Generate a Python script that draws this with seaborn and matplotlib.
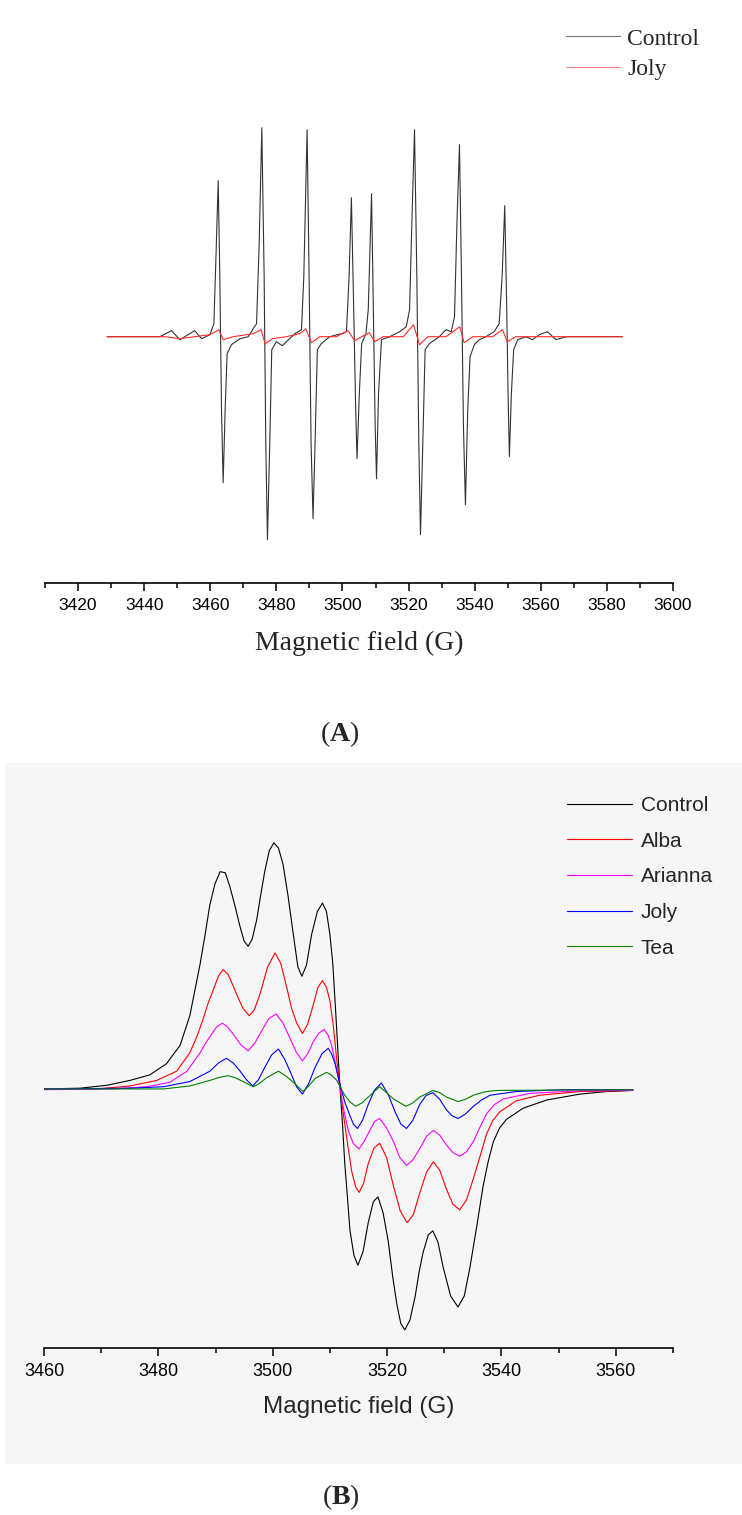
import matplotlib
matplotlib.use('Agg')
import matplotlib.pyplot as plt
import matplotlib.patches as mpatches
from matplotlib.ticker import MultipleLocator
import seaborn as sns

# ---- panel A: spin-trap spectrum, Control vs Joly (field in G, signal in a.u.) ----
a_field_control = [3428.8, 3436.7, 3444.7, 3448.3, 3450.8, 3453.3, 3455.3, 3457.4, 3459.9, 3461.1,
                   3461.7, 3462.4, 3462.9, 3463.4, 3463.9, 3464.5, 3465.1, 3466.4, 3469.0, 3471.5,
                   3473.0, 3474.0, 3474.8, 3475.6, 3476.3, 3476.8, 3477.3, 3478.0, 3478.6, 3480.0,
                   3481.8, 3484.0, 3485.6, 3487.6, 3488.3, 3489.3, 3489.9, 3490.5, 3491.1, 3491.7,
                   3492.4, 3493.6, 3496.1, 3499.7, 3501.2, 3502.0, 3502.7, 3503.4, 3504.0, 3504.4,
                   3505.1, 3505.8, 3507.1, 3507.8, 3508.8, 3509.5, 3509.9, 3510.3, 3510.9, 3511.8,
                   3514.3, 3517.3, 3519.3, 3520.3, 3521.1, 3521.8, 3522.5, 3523.1, 3523.6, 3524.3,
                   3525.0, 3526.3, 3529.3, 3531.3, 3532.9, 3533.9, 3534.6, 3535.4, 3536.0, 3536.6,
                   3537.2, 3537.9, 3538.6, 3539.9, 3541.4, 3543.4, 3545.9, 3547.4, 3548.3, 3549.1,
                   3549.7, 3550.1, 3550.5, 3551.1, 3551.8, 3553.0, 3555.5, 3557.5, 3559.5, 3562.0,
                   3564.6, 3567.6, 3575.7, 3584.7]
a_control = [0, 0, 0, 6, -3, 2, 6, -2, 2, 13,
             77, 156, 60, -73, -146, -73, -17, -8, -2, 0,
             8, 13, 93, 209, 60, -107, -203, -107, -13, -5,
             -9, -2, 3, 7, 60, 207, 60, -107, -182, -107,
             -13, -7, 0, 3, 5, 60, 139, 27, -73, -122,
             -57, -7, 3, 27, 143, -7, -90, -142, -57, -3,
             0, 5, 10, 27, 127, 207, 60, -107, -198, -107,
             -13, -7, 0, 7, 5, 20, 110, 192, 60, -90,
             -168, -73, -20, -8, -3, 0, 5, 13, 60, 131,
             27, -57, -120, -57, -13, -3, 0, -3, 2, 5,
             -3, 0, 0, 0]

a_field_joly = [3428.8, 3446.3, 3450.8, 3459.9, 3462.6, 3463.9, 3466.9, 3473.0, 3475.4, 3476.6,
                3478.9, 3483.0, 3487.1, 3488.9, 3490.6, 3493.1, 3498.1, 3501.7, 3503.7, 3505.8,
                3508.1, 3509.8, 3512.3, 3518.4, 3521.5, 3523.3, 3525.8, 3531.3, 3535.5, 3536.8,
                3539.4, 3545.4, 3548.4, 3549.9, 3552.4, 3584.7]
a_joly = [0, 0, -2, 2, 7, -3, 0, 3, 7, -7,
          -2, 0, 3, 8, -6, 0, 0, 6, -4, 0,
          4, -5, 0, 0, 12, -8, 0, 0, 10, -6,
          0, 0, 7, -5, 0, 0]

# ---- panel B: broad spectrum, five samples ----
b_field_control = [3460.0, 3466.3, 3471.0, 3475.0, 3478.5, 3481.4, 3483.8, 3485.5, 3487.3, 3488.2,
                   3489.0, 3489.9, 3490.8, 3491.7, 3492.5, 3493.4, 3494.3, 3495.0, 3495.7, 3496.4,
                   3497.2, 3497.9, 3498.6, 3499.4, 3500.2, 3501.0, 3501.8, 3502.7, 3503.6, 3504.4,
                   3505.1, 3505.9, 3506.8, 3507.8, 3508.7, 3509.4, 3510.0, 3510.5, 3510.9, 3511.3,
                   3511.7, 3512.2, 3512.6, 3513.1, 3513.5, 3514.2, 3514.9, 3515.8, 3516.7, 3517.6,
                   3518.4, 3519.3, 3520.2, 3521.0, 3521.7, 3522.4, 3523.1, 3524.0, 3524.9, 3525.6,
                   3526.3, 3527.2, 3528.0, 3528.9, 3529.8, 3531.1, 3532.4, 3533.5, 3534.5, 3535.7,
                   3536.8, 3537.7, 3538.6, 3539.7, 3540.9, 3543.8, 3547.9, 3553.7, 3558.4, 3563.0]
b_control = [0, 2, 10, 23, 38, 68, 118, 198, 338, 420,
             498, 555, 588, 585, 548, 495, 438, 400, 386, 405,
             458, 525, 588, 645, 666, 652, 608, 520, 418, 330,
             305, 335, 418, 480, 503, 480, 418, 340, 238, 130,
             18, -95, -202, -300, -382, -450, -477, -440, -362, -305,
             -292, -335, -412, -510, -582, -635, -652, -625, -562, -495,
             -442, -395, -384, -415, -482, -560, -590, -560, -482, -370,
             -262, -195, -142, -105, -82, -52, -30, -14, -7, -4]

b_field_alba = [3460.0, 3469.2, 3475.0, 3479.7, 3483.2, 3485.5, 3486.7, 3487.8, 3488.7, 3489.6,
                3490.5, 3491.3, 3492.2, 3493.1, 3494.0, 3494.8, 3495.9, 3496.8, 3497.8, 3499.1,
                3500.4, 3501.4, 3502.4, 3503.3, 3504.2, 3505.2, 3506.1, 3507.1, 3507.9, 3508.7,
                3509.4, 3510.0, 3510.6, 3511.2, 3511.8, 3512.3, 3513.1, 3513.8, 3514.5, 3515.1,
                3515.9, 3516.7, 3517.7, 3518.7, 3519.9, 3521.1, 3522.3, 3523.5, 3524.6, 3525.7,
                3526.9, 3528.1, 3529.2, 3530.4, 3531.5, 3532.7, 3533.9, 3535.1, 3536.3, 3537.4,
                3538.5, 3539.7, 3542.6, 3546.7, 3553.7, 3563.0]
b_alba = [0, 0, 8, 23, 48, 98, 140, 188, 232, 268,
          305, 323, 310, 278, 245, 218, 198, 215, 258, 330,
          368, 340, 278, 218, 178, 150, 175, 228, 275, 293,
          275, 238, 170, 78, 5, -62, -150, -222, -265, -280,
          -255, -202, -160, -147, -185, -262, -330, -362, -340, -282,
          -225, -197, -220, -272, -312, -327, -300, -242, -180, -122,
          -85, -62, -32, -17, -7, -4]

b_field_arianna = [3460.0, 3472.1, 3478.0, 3482.0, 3485.0, 3487.3, 3488.3, 3489.3, 3490.2, 3491.2,
                   3492.1, 3493.1, 3494.4, 3495.7, 3496.9, 3498.1, 3499.3, 3500.6, 3501.8, 3503.0,
                   3504.1, 3505.2, 3506.1, 3507.1, 3508.0, 3509.0, 3509.7, 3510.3, 3511.0, 3511.7,
                   3512.4, 3513.2, 3514.1, 3515.1, 3516.0, 3517.0, 3517.8, 3518.7, 3519.9, 3521.1,
                   3522.2, 3523.4, 3524.5, 3525.7, 3526.9, 3528.1, 3529.2, 3530.4, 3531.5, 3532.7,
                   3533.9, 3535.1, 3536.2, 3537.4, 3538.8, 3540.3, 3545.0, 3553.7, 3563.0]
b_arianna = [-2, 0, 6, 18, 48, 98, 125, 148, 168, 178,
             168, 148, 120, 103, 125, 158, 190, 203, 178, 138,
             100, 76, 95, 128, 150, 161, 145, 118, 68, 8,
             -55, -112, -148, -162, -142, -112, -88, -80, -105, -142,
             -185, -207, -192, -162, -128, -112, -125, -152, -172, -182,
             -170, -142, -105, -67, -42, -27, -12, -5, -4]

b_field_joly = [3460.0, 3475.0, 3480.9, 3485.5, 3489.0, 3490.5, 3491.9, 3493.1, 3494.3, 3495.4,
                3496.5, 3497.5, 3498.6, 3499.8, 3501.0, 3502.1, 3503.3, 3504.2, 3505.2, 3506.3,
                3507.4, 3508.6, 3509.7, 3510.3, 3510.9, 3511.5, 3512.0, 3512.7, 3513.5, 3514.1,
                3514.8, 3515.7, 3516.7, 3517.8, 3519.0, 3520.2, 3521.4, 3522.4, 3523.4, 3524.5,
                3525.7, 3526.8, 3528.0, 3529.2, 3530.4, 3531.4, 3532.4, 3533.7, 3535.1, 3536.5,
                3538.0, 3542.6, 3550.8, 3563.0]
b_joly = [0, 2, 6, 20, 48, 70, 83, 70, 48, 25,
          8, 25, 58, 92, 108, 80, 38, 5, -14, 15,
          58, 95, 110, 95, 68, 30, -2, -40, -72, -95,
          -107, -85, -42, -3, 16, -15, -62, -95, -107, -85,
          -42, -18, -10, -28, -57, -73, -80, -68, -47, -30,
          -17, -7, -2, -2]

b_field_tea = [3460.0, 3480.9, 3485.5, 3489.0, 3490.6, 3492.2, 3493.5, 3494.8, 3496.6, 3497.7,
               3498.9, 3501.0, 3502.3, 3503.6, 3505.3, 3506.3, 3507.4, 3509.4, 3510.3, 3511.2,
               3512.6, 3513.5, 3514.5, 3515.6, 3516.7, 3518.7, 3519.9, 3521.1, 3523.3, 3524.5,
               3525.7, 3528.0, 3529.2, 3530.4, 3532.4, 3533.7, 3535.1, 3537.0, 3539.1, 3563.0]
b_tea = [0, 0, 8, 23, 31, 36, 30, 20, 6, 15,
         30, 48, 35, 18, -7, 8, 28, 45, 37, 23,
         -17, -35, -47, -38, -22, 6, -10, -27, -47, -38,
         -22, -4, -10, -22, -34, -28, -17, -8, -4, -2]


sns.set_style('white')
plt.rcParams['font.family'] = ['Liberation Sans', 'DejaVu Sans']
plt.rcParams['mathtext.fontset'] = 'custom'
plt.rcParams['mathtext.rm'] = 'Liberation Serif'
plt.rcParams['mathtext.bf'] = 'Liberation Serif:bold'

W, H = 742, 1515
fig = plt.figure(figsize=(W / 100, H / 100), dpi=100)


def box(left, top, right, bottom):
    # pixel box -> figure fraction
    return [left / W, 1 - bottom / H, (right - left) / W, (bottom - top) / H]


# light grey backdrop behind panel B
fig.patches.append(mpatches.Rectangle((5 / W, 1 - 1464 / H), 737 / W, (1464 - 763) / H,
                                      transform=fig.transFigure, facecolor='#f6f6f6',
                                      edgecolor='none', zorder=-10))

axA = fig.add_axes(box(45, 110, 673, 583))
axB = fig.add_axes(box(44, 780, 673, 1348))
axA.set_zorder(2)
axB.set_zorder(2)


def style_axis(ax, lo, hi, labelsize):
    ax.set_facecolor('none')
    ax.patch.set_alpha(0)
    ax.set_xlim(lo, hi)
    ax.xaxis.set_major_locator(MultipleLocator(20))
    ax.xaxis.set_minor_locator(MultipleLocator(10))
    for s in ['top', 'right', 'left']:
        ax.spines[s].set_visible(False)
    ax.spines['bottom'].set_linewidth(1.2)
    ax.spines['bottom'].set_color('black')
    ax.set_yticks([])
    ax.set_ylabel('')
    ax.tick_params(axis='x', which='both', bottom=True, direction='out', width=1.1,
                   color='black', labelsize=labelsize, labelcolor='black')
    ax.tick_params(axis='x', which='major', length=6, pad=5)
    ax.tick_params(axis='x', which='minor', length=3.5)


# panel A
sns.lineplot(x=a_field_control, y=a_control, color='#333333', lw=0.8, label='Control',
             estimator=None, sort=False, ax=axA)
sns.lineplot(x=a_field_joly, y=a_joly, color='#ff2a2a', lw=0.8, label='Joly',
             estimator=None, sort=False, ax=axA)
style_axis(axA, 3410, 3600, 12.5)
axA.set_ylim(-246.3, 226.7)
axA.set_xlabel('Magnetic field (G)', family='Liberation Serif', fontsize=20, labelpad=13)
legA = axA.legend(loc='upper left', bbox_to_anchor=(566 / W, 1 - 28 / H),
                  bbox_transform=fig.transFigure, frameon=False,
                  prop={'family': 'Liberation Serif', 'size': 17},
                  handlelength=2.3, handletextpad=0.3, labelspacing=0.38,
                  borderpad=0, borderaxespad=0)
legA.get_lines()[0].set_color('#777777')
legA.get_lines()[1].set_color('#ff8080')

# panel B
series_b = [
    ('Control', b_field_control, b_control, 'black'),
    ('Alba', b_field_alba, b_alba, '#ff0000'),
    ('Arianna', b_field_arianna, b_arianna, '#ff00ff'),
    ('Joly', b_field_joly, b_joly, '#0000ff'),
    ('Tea', b_field_tea, b_tea, '#008000'),
]
for name, fx, fy, col in series_b:
    sns.lineplot(x=fx, y=fy, color=col, lw=0.8, label=name, estimator=None, sort=False, ax=axB)
style_axis(axB, 3460, 3570, 13)
axB.set_ylim(-701, 836)
axB.set_xlabel('Magnetic field (G)', fontsize=17.5, labelpad=11)
axB.legend(loc='upper left', bbox_to_anchor=(567 / W, 1 - 796 / H),
           bbox_transform=fig.transFigure, frameon=False,
           prop={'family': 'Liberation Sans', 'size': 15},
           handlelength=3.1, handletextpad=0.45, labelspacing=0.8,
           borderpad=0, borderaxespad=0)

# panel tags
fig.text(340 / W, 1 - 734 / H, r'$(\mathbf{A})$', ha='center', va='center', fontsize=20)
fig.text(341 / W, 1 - 1497 / H, r'$(\mathbf{B})$', ha='center', va='center', fontsize=20)

fig.savefig('out.png', dpi=100)
